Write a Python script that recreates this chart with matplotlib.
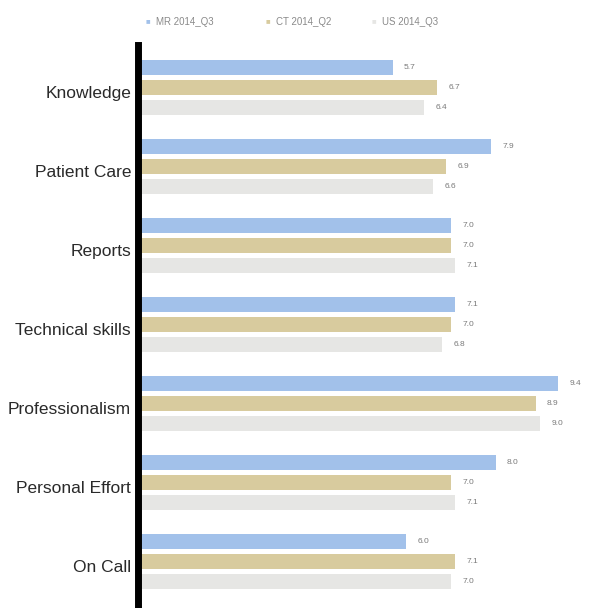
import numpy as np
import matplotlib.pyplot as plt

categories = ["Knowledge", "Patient Care", "Reports", "Technical skills",
              "Professionalism", "Personal Effort", "On Call"]
series = ["MR 2014_Q3", "CT 2014_Q2", "US 2014_Q3"]
mr = [5.7, 7.9, 7.0, 7.1, 9.4, 8.0, 6.0]
ct = [6.7, 6.9, 7.0, 7.0, 8.9, 7.0, 7.1]
us = [6.4, 6.6, 7.1, 6.8, 9.0, 7.1, 7.0]

colors = ["#a2c1ea", "#d8cb9e", "#e6e6e4"]
offsets = [-0.31, -0.06, 0.19]
bar_h = 0.19

plt.rcParams["font.family"] = ["Liberation Sans", "DejaVu Sans"]

fig = plt.figure(figsize=(6.01, 6.08), dpi=100)
ax = fig.add_axes([138 / 601, 0.0, 447 / 601, 1 - 45 / 608])

y = np.arange(len(categories))
for vals, col, off in zip([mr, ct, us], colors, offsets):
    ax.barh(y + off, vals, height=bar_h, color=col, edgecolor="none")
    for yi, v in zip(y, vals):
        ax.text(v + 0.25, yi + off, f"{v:.1f}", va="center", ha="left",
                fontsize=6, color="#7a7a7a")

ax.set_xlim(0, 10)
ax.set_ylim(6.53, -0.595)
ax.set_yticks(y)
ax.set_yticklabels(categories, fontsize=12.5, color="#2a2a2a")
ax.tick_params(axis="y", length=0, pad=5)
ax.set_xticks([])
for s in ["top", "right", "bottom"]:
    ax.spines[s].set_visible(False)
ax.spines["left"].set_linewidth(5)
ax.spines["left"].set_color("black")

# legend row above the plot
leg_y = 1 - 22 / 608
for (name, col, mx) in zip(series, colors, [148, 268, 374]):
    fig.text(mx / 601, leg_y, "■", fontsize=5.5, color=col, va="center", ha="center")
    fig.text((mx + 8) / 601, leg_y, name, fontsize=7, color="#8a8a8a",
             va="center", ha="left")

fig.savefig("out.png", dpi=100)
